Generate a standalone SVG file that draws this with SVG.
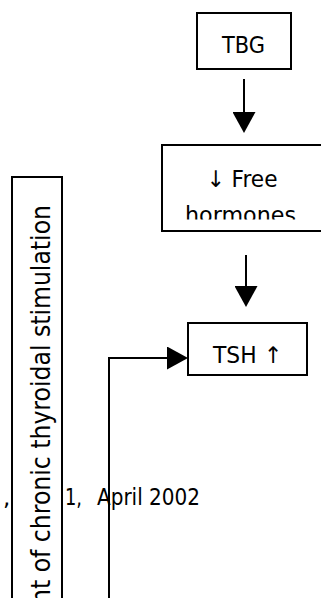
<svg xmlns="http://www.w3.org/2000/svg" width="321" height="598" viewBox="0 0 321 598">
  <style>
    .box { fill: #fff; stroke: #000; stroke-width: 2; }
    .lbl { font-family: "DejaVu Sans", "Liberation Sans", sans-serif; fill: #000; }
    .wire { fill: none; stroke: #000; stroke-width: 2; stroke-linejoin: miter; }
  </style>
  <defs>
    <marker id="arrow" markerUnits="userSpaceOnUse" viewBox="0 0 21 23" markerWidth="21" markerHeight="23" refX="11" refY="11.5" orient="auto">
      <path d="M0,0 L21,11.5 L0,23 Z" fill="#000"/>
    </marker>
    <clipPath id="free-clip">
      <rect x="162" y="145" width="170" height="74.5"/>
    </clipPath>
  </defs>

  <rect width="321" height="598" fill="#fff"/>

  <!-- citation line, partly hidden behind the side panel -->
  <g id="citation" class="lbl" font-size="23">
    <text x="3" y="505">,</text>
    <text x="65" y="505" textLength="17" lengthAdjust="spacingAndGlyphs">1,</text>
    <text x="97" y="505" textLength="103" lengthAdjust="spacingAndGlyphs">April 2002</text>
  </g>

  <g id="stimulation">
    <rect class="box" x="12" y="177" width="50" height="440"/>
    <text class="lbl" font-size="26" transform="translate(50,604) rotate(-90)" textLength="399" lengthAdjust="spacingAndGlyphs">nt of chronic thyroidal stimulation</text>
  </g>

  <g id="tbg">
    <rect class="box" x="197" y="13" width="94" height="56"/>
    <text class="lbl" x="243.5" y="53" font-size="23" text-anchor="middle" textLength="43" lengthAdjust="spacingAndGlyphs">TBG</text>
  </g>

  <g id="free-hormones">
    <rect class="box" x="162" y="145" width="170" height="86"/>
    <text class="lbl" x="242" y="187" font-size="23" text-anchor="middle" textLength="71" lengthAdjust="spacingAndGlyphs">↓ Free</text>
    <text class="lbl" x="240.5" y="222.5" font-size="23" text-anchor="middle" textLength="111" lengthAdjust="spacingAndGlyphs" clip-path="url(#free-clip)">hormones</text>
  </g>

  <g id="tsh">
    <rect class="box" x="188" y="323" width="119" height="52"/>
    <text class="lbl" x="247.5" y="362.5" font-size="23" text-anchor="middle" textLength="69" lengthAdjust="spacingAndGlyphs">TSH ↑</text>
  </g>

  <g id="connectors">
    <path class="wire" d="M244,79 V123" marker-end="url(#arrow)"/>
    <path class="wire" d="M246,255 V297" marker-end="url(#arrow)"/>
    <path class="wire" d="M109,600 V358 H178" marker-end="url(#arrow)"/>
  </g>
</svg>
